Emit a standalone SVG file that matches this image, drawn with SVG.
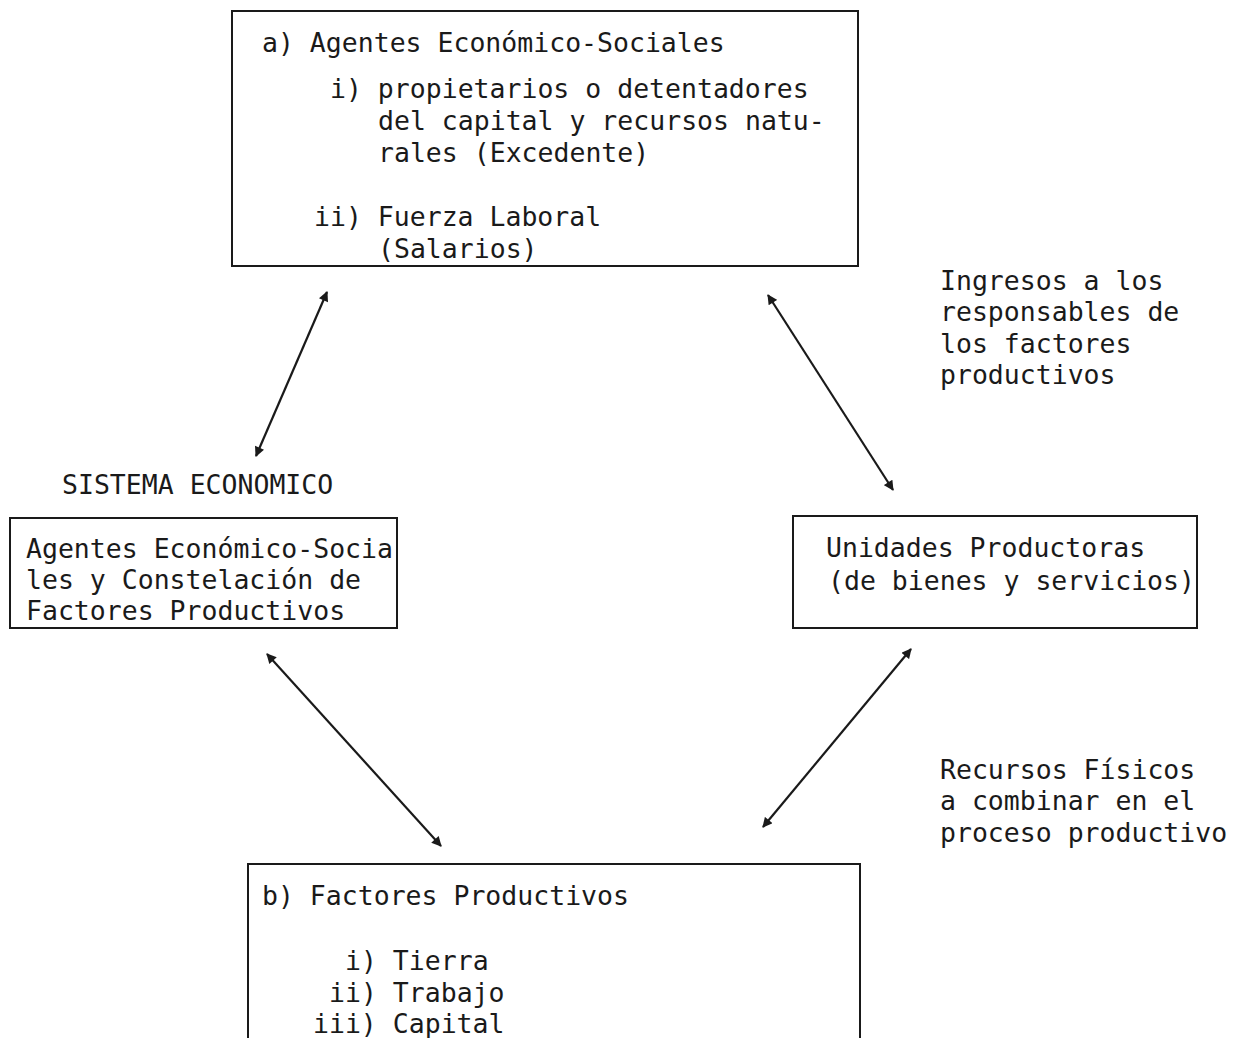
<svg xmlns="http://www.w3.org/2000/svg" width="1243" height="1038" viewBox="0 0 1243 1038">
<style>
.t{font-family:"DejaVu Sans Mono","Liberation Mono",monospace;font-size:26.5px;fill:#1a1a1a}
.box{fill:none;stroke:#1a1a1a;stroke-width:2}
.c{stroke:#1a1a1a;stroke-width:2.2;fill:none;marker-start:url(#ah);marker-end:url(#ah)}
</style>
<defs>
<marker id="ah" viewBox="0 0 10 10" refX="9" refY="5" markerWidth="11" markerHeight="10" markerUnits="userSpaceOnUse" orient="auto-start-reverse">
<path d="M0,0 L10,5 L0,10 z" fill="#1a1a1a"/>
</marker>
</defs>
<rect width="1243" height="1038" fill="#fff"/>
<g id="node-agentes">
<rect class="box" x="232" y="11" width="626" height="255"/>
<text class="t" x="262" y="52">a) Agentes Económico-Sociales</text>
<text class="t" x="330" y="98">i) propietarios o detentadores</text>
<text class="t" x="378" y="130">del capital y recursos natu-</text>
<text class="t" x="378" y="162">rales (Excedente)</text>
<text class="t" x="314" y="226">ii) Fuerza Laboral</text>
<text class="t" x="378" y="258">(Salarios)</text>
</g>
<g id="node-sistema">
<text class="t" x="62" y="494">SISTEMA ECONOMICO</text>
<rect class="box" x="10" y="518" width="387" height="110"/>
<text class="t" x="26" y="558">Agentes Económico-Socia</text>
<text class="t" x="26" y="589">les y Constelación de</text>
<text class="t" x="26" y="620">Factores Productivos</text>
</g>
<g id="node-unidades">
<rect class="box" x="793" y="516" width="404" height="112"/>
<text class="t" x="826" y="557">Unidades Productoras</text>
<text class="t" x="828" y="590">(de bienes y servicios)</text>
</g>
<g id="node-factores">
<rect class="box" x="248" y="864" width="612" height="180"/>
<text class="t" x="262" y="905">b) Factores Productivos</text>
<text class="t" x="345" y="970">i) Tierra</text>
<text class="t" x="329" y="1002">ii) Trabajo</text>
<text class="t" x="313" y="1033">iii) Capital</text>
</g>
<g id="label-ingresos">
<text class="t" x="940" y="290">Ingresos a los</text>
<text class="t" x="940" y="321">responsables de</text>
<text class="t" x="940" y="353">los factores</text>
<text class="t" x="940" y="384">productivos</text>
</g>
<g id="label-recursos">
<text class="t" x="940" y="779">Recursos Físicos</text>
<text class="t" x="940" y="810">a combinar en el</text>
<text class="t" x="940" y="842">proceso productivo</text>
</g>
<g id="connectors">
<line class="c" x1="327" y1="292" x2="256" y2="456"/>
<line class="c" x1="768" y1="295" x2="893" y2="490"/>
<line class="c" x1="267" y1="654" x2="441" y2="846"/>
<line class="c" x1="911" y1="649" x2="763" y2="827"/>
</g>
</svg>
